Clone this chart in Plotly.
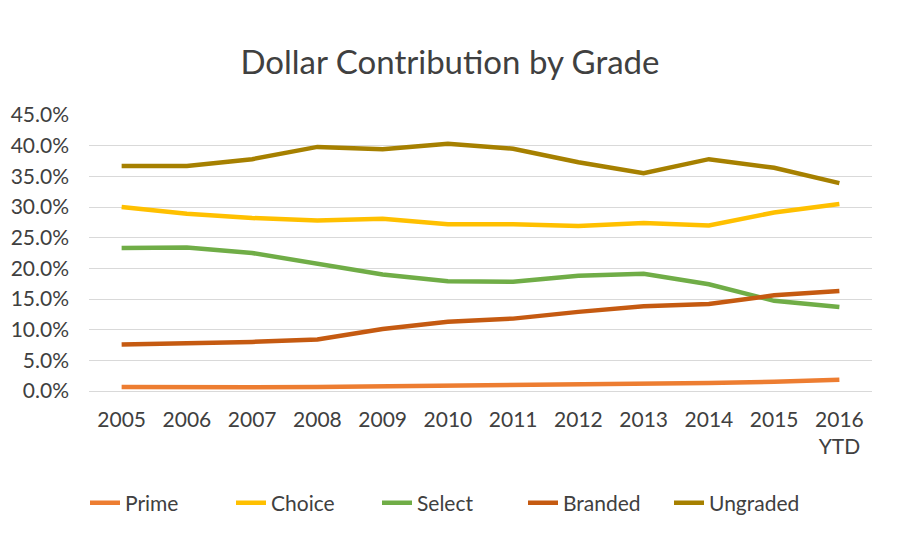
import plotly.graph_objects as go

years = ["2005", "2006", "2007", "2008", "2009", "2010", "2011", "2012", "2013", "2014", "2015", "2016<br>YTD"]
prime = [0.65, 0.55, 0.6, 0.65, 0.75, 0.8, 0.85, 0.95, 1.1, 1.3, 1.5, 1.85]
choice = [30.0, 28.9, 28.2, 27.8, 28.1, 27.2, 27.2, 26.9, 27.4, 27.0, 29.1, 30.5]
select = [23.3, 23.4, 22.5, 20.8, 19.0, 17.9, 17.8, 18.8, 19.1, 17.4, 14.7, 13.7]
branded = [7.6, 7.8, 8.0, 8.4, 10.1, 11.3, 11.8, 12.9, 13.8, 14.2, 15.6, 16.3]
ungraded = [36.7, 36.7, 37.8, 39.8, 39.4, 40.3, 39.5, 37.3, 35.5, 37.8, 36.4, 33.9]

series = [
    ("Prime", prime, "#ED7D31"),
    ("Choice", choice, "#FFC000"),
    ("Select", select, "#70AD47"),
    ("Branded", branded, "#C55A11"),
    ("Ungraded", ungraded, "#A68000"),
]

FONT = "Lato, sans-serif"
fig = go.Figure()
for name, vals, color in series:
    fig.add_trace(go.Scatter(
        x=years, y=[v / 100 for v in vals], name=name, mode="lines",
        line=dict(color=color, width=4.5),
    ))

fig.update_layout(
    width=900, height=550,
    margin=dict(l=89, r=28, t=115, b=159, autoexpand=False),
    paper_bgcolor="white", plot_bgcolor="white",
    font=dict(family=FONT, size=21, color="#404040"),
    title=dict(text="Dollar Contribution by Grade", x=0.5, xanchor="center",
               yref="container", y=1 - 62 / 550, yanchor="middle",
               font=dict(family=FONT, size=33, color="#404040")),
    xaxis=dict(type="category", range=[-0.5, 11.5], showgrid=False,
               showline=False, ticks="", tickangle=0, automargin=False,
               ticklabelstandoff=14,
               tickfont=dict(size=21, color="#404040")),
    yaxis=dict(range=[0, 0.45], dtick=0.05, tickformat=".1%",
               gridcolor="#d9d9d9", gridwidth=1.3, zeroline=True,
               zerolinecolor="#d9d9d9", zerolinewidth=1.3, showline=False,
               ticks="", automargin=False, ticklabelstandoff=19,
               tickfont=dict(size=21, color="#404040")),
    showlegend=True,
    legend=dict(orientation="h", x=(450 - 89) / 783, xanchor="center",
                y=(391 - 503) / 276, yanchor="middle",
                entrywidth=101, entrywidthmode="pixels",
                font=dict(size=21, color="#404040"),
                bgcolor="rgba(0,0,0,0)"),
)

fig.write_html("out.html")
